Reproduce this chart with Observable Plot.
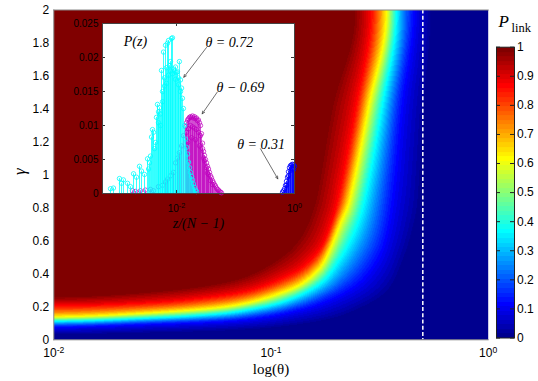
<!DOCTYPE html>
<html>
<head>
<meta charset="utf-8">
<script src="https://cdn.jsdelivr.net/npm/d3@7"></script>
<script src="https://cdn.jsdelivr.net/npm/@observablehq/plot@0.6"></script>
<style>
  html, body { margin: 0; padding: 0; background: #fff; }
  #chart { position: relative; width: 538px; height: 381px; overflow: hidden; background: #fff; }
  #chart svg { position: absolute; overflow: visible; }
</style>
</head>
<body>
<div id="chart"></div>
<script>
// ================= DATA =================
// Main map axes
const xTickTheta = [0.01, 0.1, 1];
const yTickGamma = [0, 0.2, 0.4, 0.6, 0.8, 1, 1.2, 1.4, 1.6, 1.8, 2];
const cbarTicks = [0, 0.1, 0.2, 0.3, 0.4, 0.5, 0.6, 0.7, 0.8, 0.9, 1];
const dashedTheta = 0.5;

// P_link contour lines of the map (theta, gamma), one list per level
const levelP = [0.016, 0.12, 0.37, 0.62, 0.87, 0.984];
const contourTheta = [
  [0.0100, 0.0288, 0.0831, 0.1685, 0.2397, 0.3412, 0.4074, 0.4529, 0.4725, 0.5035, 0.5423],
  [0.0100, 0.0288, 0.0583, 0.0831, 0.1182, 0.1685, 0.2397, 0.2862, 0.3296, 0.3626, 0.4018, 0.4545],
  [0.0100, 0.0288, 0.0583, 0.0831, 0.1182, 0.1685, 0.2008, 0.2397, 0.2694, 0.3251, 0.3783],
  [0.0100, 0.0288, 0.0583, 0.0831, 0.1182, 0.1412, 0.1685, 0.1873, 0.2083, 0.2298, 0.2820, 0.3391],
  [0.0100, 0.0288, 0.0583, 0.0831, 0.1182, 0.1412, 0.1685, 0.1873, 0.2013, 0.2449, 0.2871],
  [0.0100, 0.0288, 0.0583, 0.0831, 0.1182, 0.1412, 0.1569, 0.1655, 0.1940, 0.2449]
];
const contourGamma = [
  [0.036, 0.046, 0.067, 0.117, 0.178, 0.299, 0.501, 0.703, 0.845, 1.421, 2.0],
  [0.076, 0.093, 0.109, 0.127, 0.161, 0.218, 0.319, 0.420, 0.572, 0.845, 1.421, 2.0],
  [0.113, 0.133, 0.158, 0.188, 0.238, 0.340, 0.461, 0.643, 0.845, 1.421, 2.0],
  [0.141, 0.166, 0.198, 0.234, 0.299, 0.349, 0.440, 0.552, 0.703, 0.845, 1.421, 2.0],
  [0.208, 0.228, 0.269, 0.309, 0.390, 0.451, 0.562, 0.703, 0.845, 1.421, 2.0],
  [0.258, 0.289, 0.340, 0.400, 0.522, 0.643, 0.784, 0.905, 1.421, 2.0]
];

// Inset: P(z) versus z/(N-1)
const insetXTicks = [0.01, 1];
const insetYTicks = [0, 0.005, 0.01, 0.015, 0.02, 0.025];

// theta = 0.69 (magenta)
const magentaZ = [0.00179, 0.00202, 0.00245, 0.00297, 0.00362, 0.00408, 0.00495, 0.00579, 0.00651, 0.00704, 0.00791, 0.00890, 0.00962, 0.0104, 0.0112, 0.0122, 0.0131,
  0.0142, 0.0148, 0.0154, 0.0160, 0.0166, 0.0173, 0.0180, 0.0187, 0.0194, 0.0202, 0.0210, 0.0218, 0.0227, 0.0236, 0.0245, 0.0255,
  0.0265, 0.0276, 0.0287, 0.0298, 0.0310, 0.0323, 0.0335, 0.0349, 0.0363, 0.0377, 0.0392, 0.0408, 0.0424, 0.0441, 0.0458, 0.0477,
  0.0495, 0.0515, 0.0536, 0.0557, 0.0579,
  0.0148, 0.0160, 0.0173, 0.0187, 0.0202, 0.0218, 0.0236, 0.0255, 0.0276, 0.0298, 0.0323, 0.0349, 0.0377, 0.0408,
  0.0154, 0.0180, 0.0210, 0.0245, 0.0287, 0.0335];
const magentaP = [0.0004, 0.0003, 0.0004, 0.0005, 0.0006, 0.0004, 0.0010, 0.0012, 0.0017, 0.0021, 0.0026, 0.0031, 0.0045, 0.0052, 0.0060, 0.0070, 0.0085,
  0.0098, 0.0104, 0.0108, 0.0110, 0.0112, 0.0113, 0.0112, 0.0114, 0.0111, 0.0113, 0.0110, 0.0111, 0.0107, 0.0108, 0.0104, 0.0100,
  0.0088, 0.0074, 0.0062, 0.0056, 0.0050, 0.0045, 0.0040, 0.0036, 0.0031, 0.0026, 0.0023, 0.0019, 0.0016, 0.0013, 0.0011, 0.0008,
  0.0006, 0.0005, 0.0003, 0.0002, 0.0001,
  0.0090, 0.0095, 0.0100, 0.0098, 0.0096, 0.0094, 0.0090, 0.0085, 0.0066, 0.0048, 0.0038, 0.0028, 0.0019, 0.0013,
  0.0075, 0.0082, 0.0079, 0.0070, 0.0052, 0.0030];

// theta = 0.72 (cyan)
const cyanZ = [0.000761, 0.000855, 0.00108, 0.00117, 0.00126, 0.00148, 0.00166, 0.00187, 0.00210, 0.00236, 0.00255, 0.00287,
  0.00323, 0.00336, 0.00349, 0.00362, 0.00377, 0.00392, 0.00408, 0.00424, 0.00441, 0.00458, 0.00476, 0.00495, 0.00515, 0.00536,
  0.00557, 0.00579, 0.00602, 0.00626, 0.00651, 0.00677, 0.00704, 0.00732, 0.00761, 0.00791, 0.00823, 0.00855, 0.00890,
  0.00925, 0.00962, 0.0100, 0.0104, 0.0108, 0.0112, 0.0117, 0.0122, 0.0126, 0.0131, 0.0137,
  0.0142, 0.0148, 0.0154, 0.0160, 0.0166, 0.0173, 0.0180, 0.0187, 0.0194, 0.0202, 0.0210, 0.0218,
  0.00495, 0.00536, 0.00579, 0.00626, 0.00677, 0.00732, 0.00791, 0.00855, 0.00962, 0.0108, 0.0117];
const cyanP = [0.0007, 0.0008, 0.0022, 0.0015, 0.0020, 0.0015, 0.0010, 0.0029, 0.0024, 0.0040, 0.0033, 0.0028,
  0.0051, 0.0036, 0.0045, 0.0055, 0.0083, 0.0094, 0.0090, 0.0066, 0.0075, 0.0112, 0.0131, 0.0120, 0.0126, 0.0117,
  0.0181, 0.0135, 0.0208, 0.0170, 0.0218, 0.0185, 0.0221, 0.0225, 0.0188, 0.0194, 0.0228, 0.0229, 0.0183,
  0.0180, 0.0186, 0.0178, 0.0179, 0.0170, 0.0194, 0.0167, 0.0155, 0.0140, 0.0125, 0.0100,
  0.0080, 0.0068, 0.0058, 0.0046, 0.0038, 0.0031, 0.0025, 0.0020, 0.0014, 0.0009, 0.0005, 0.0003,
  0.0104, 0.0100, 0.0150, 0.0158, 0.0162, 0.0174, 0.0180, 0.0176, 0.0168, 0.0160, 0.0150];

// theta = 0.31 (blue)
const blueZ = [0.626, 0.652, 0.678, 0.704, 0.732, 0.761, 0.791, 0.823, 0.855, 0.890, 0.925, 0.962, 1.0,
  0.732, 0.791, 0.855, 0.925, 0.962];
const blueP = [0.0002, 0.0004, 0.0007, 0.0012, 0.0018, 0.0024, 0.0032, 0.0038, 0.0041, 0.0042, 0.0043, 0.0042, 0.0040,
  0.0012, 0.0026, 0.0034, 0.0036, 0.0035];

// Inset annotations
const insetLabels = [
  {text: "P(z)", z: 0.00128, p: 0.02235},
  {text: "θ = 0.72", z: 0.0310, p: 0.02221},
  {text: "θ − 0.69", z: 0.0477, p: 0.01559},
  {text: "θ = 0.31", z: 0.1069, p: 0.00721}
];
const insetArrows = [
  {z1: 0.03225, p1: 0.02147, z2: 0.0133, p2: 0.0171},
  {z1: 0.0490, p1: 0.0149, z2: 0.02726, p2: 0.01172},
  {z1: 0.2653, p1: 0.00657, z2: 0.521, p2: 0.00216}
];

// ================= LAYOUT / STYLE =================
const W = 538, H = 381;
const ML = 53.3, MR = W - 487.7, MT = 9.5, MB = H - 339.3;
const FW = W - ML - MR, FH = H - MT - MB;
const SX = FW / 2, SY = FH / 2;           // pixels per decade, pixels per unit gamma
const serif = "'Liberation Serif', 'DejaVu Serif', serif";
const sans = "'Liberation Sans', Arial, Helvetica, sans-serif";

// MATLAB jet(64) colormap
function jet64() {
  const n = 16, u = [];
  for (let i = 1; i <= n; i++) u.push(i / n);
  for (let i = 0; i < n - 1; i++) u.push(1);
  for (let i = n; i >= 1; i--) u.push(i / n);
  const J = Array.from({length: 64}, () => [0, 0, 0]);
  u.forEach((v, k) => {
    if (8 + k < 64) J[8 + k][1] = v;
    if (24 + k < 64) J[24 + k][0] = v;
    if (k - 8 >= 0 && k - 8 < 64) J[k - 8][2] = v;
  });
  return J.map(([r, g, b]) => `rgb(${Math.round(r * 255)},${Math.round(g * 255)},${Math.round(b * 255)})`);
}
const colorOpts = {type: "threshold", domain: d3.range(1, 64).map(i => i / 64), range: jet64()};

// ---- continuous field built from the contour lines ----
function makeCurve(thetas, gammas) {
  const pts = thetas.map((th, j) => {
    const lx = Math.log10(th), Y = gammas[j] * SY;
    return [Y + lx * SX, Y - lx * SX];
  }).sort((a, b) => a[0] - b[0]);
  const n = pts.length, S = pts.map(p => p[0]), T = pts.map(p => p[1]);
  const M = S.map((_, j) => j === 0 ? -1 : j === n - 1 ? 1 : (T[j + 1] - T[j - 1]) / (S[j + 1] - S[j - 1]));
  return s => {
    if (s <= S[0]) return T[0] + S[0] - s;
    if (s >= S[n - 1]) return T[n - 1] + s - S[n - 1];
    let j = 0; while (S[j + 1] < s) j++;
    const h = S[j + 1] - S[j], u = (s - S[j]) / h, u2 = u * u, u3 = u2 * u;
    return (2 * u3 - 3 * u2 + 1) * T[j] + (u3 - 2 * u2 + u) * h * M[j] +
           (-2 * u3 + 3 * u2) * T[j + 1] + (u3 - u2) * h * M[j + 1];
  };
}
const curves = contourTheta.map((th, i) => makeCurve(th, contourGamma[i]));

function field(lx, g) {
  const Y = g * SY, s = Y + lx * SX, t = Y - lx * SX;
  const n = curves.length, ts = curves.map(c => c(s));
  for (let i = 1; i < n; i++) if (ts[i] < ts[i - 1] + 0.05) ts[i] = ts[i - 1] + 0.05;
  if (t <= ts[0]) return 0;
  if (t >= ts[n - 1]) return 1;
  const d = [];
  for (let i = 0; i < n - 1; i++) d.push((levelP[i + 1] - levelP[i]) / (ts[i + 1] - ts[i]));
  const m = ts.map((_, i) => i === 0 ? d[0] : i === n - 1 ? d[n - 2] : 2 / (1 / d[i - 1] + 1 / d[i]));
  let j = 0; while (ts[j + 1] < t) j++;
  const h = ts[j + 1] - ts[j], u = (t - ts[j]) / h, u2 = u * u, u3 = u2 * u;
  return (2 * u3 - 3 * u2 + 1) * levelP[j] + (u3 - 2 * u2 + u) * h * m[j] +
         (-2 * u3 + 3 * u2) * levelP[j + 1] + (u3 - u2) * h * m[j + 1];
}

function supify(svg) {
  d3.select(svg).selectAll("text").each(function () {
    const el = d3.select(this);
    const s = el.text();
    if (!s.includes("^")) return;
    const [base, exp] = s.split("^");
    el.text(null);
    el.append("tspan").text(base);
    el.append("tspan").attr("dy", "-0.5em").attr("font-size", "0.72em").text(exp);
  });
}
const place = (svg, left, top) => { svg.style.left = left + "px"; svg.style.top = top + "px"; return svg; };

const chart = document.getElementById("chart");

// ================= MAIN MAP =================
const main = Plot.plot({
  width: W, height: H,
  marginLeft: ML, marginRight: MR, marginTop: MT, marginBottom: MB,
  x: {domain: [-2, 0]},
  y: {domain: [0, 2]},
  color: colorOpts,
  style: {background: "transparent", fontFamily: sans, fontSize: "12px", color: "black"},
  marks: [
    Plot.raster({x1: -2, x2: 0, y1: 0, y2: 2, fill: field, pixelSize: 1}),
    Plot.ruleX([Math.log10(dashedTheta)], {stroke: "white", strokeWidth: 1.5, strokeDasharray: "4 2.2"}),
    Plot.frame({anchor: "top", stroke: "#888"}),
    Plot.frame({anchor: "left", stroke: "#888"}),
    Plot.frame({anchor: "bottom", stroke: "#888"}),
    Plot.axisX(xTickTheta.map(Math.log10), {tickSize: 0, tickPadding: 8.5, label: null,
      tickFormat: d => "10^" + Math.round(d), fontSize: 12}),
    Plot.axisY(yTickGamma, {tickSize: 0, tickPadding: 4.5, label: null, tickFormat: d => String(d), fontSize: 12}),
    Plot.text(["log(θ)"], {text: d => d, frameAnchor: "bottom", lineAnchor: "middle", dy: 29,
      fontFamily: serif, fontSize: 15}),
    Plot.text(["γ"], {text: d => d, frameAnchor: "left", lineAnchor: "middle", dx: -34, rotate: -90,
      fontFamily: serif, fontStyle: "italic", fontSize: 17})
  ]
});
supify(main);
chart.appendChild(place(main, 0, 0));

// ================= INSET =================
const IL = 40, IT = 10, IW = 192, IH = 170;
const inset = Plot.plot({
  width: IL + IW + 10, height: IT + IH + 45,
  marginLeft: IL, marginRight: 10, marginTop: IT, marginBottom: 45,
  x: {type: "log", domain: [0.000557, 1]},
  y: {domain: [0, 0.025]},
  style: {background: "transparent", fontFamily: sans, fontSize: "10px", color: "black"},
  marks: [
    Plot.frame({fill: "white", stroke: "none"}),
    Plot.ruleX(magentaZ, {x: d => d, y1: 0, y2: (d, i) => magentaP[i], stroke: "#bf00bf", strokeWidth: 0.7}),
    Plot.dot(magentaZ, {x: d => d, y: (d, i) => magentaP[i], r: 2.2, stroke: "#bf00bf", strokeWidth: 0.7, fill: "none"}),
    Plot.ruleX(cyanZ, {x: d => d, y1: 0, y2: (d, i) => cyanP[i], stroke: "#00ffff", strokeWidth: 0.8}),
    Plot.dot(cyanZ, {x: d => d, y: (d, i) => cyanP[i], r: 2.2, stroke: "#00ffff", strokeWidth: 0.8, fill: "none"}),
    Plot.ruleX(blueZ, {x: d => d, y1: 0, y2: (d, i) => blueP[i], stroke: "#0000ff", strokeWidth: 0.8}),
    Plot.dot(blueZ, {x: d => d, y: (d, i) => blueP[i], r: 2.2, stroke: "#0000ff", strokeWidth: 0.8, fill: "none"}),
    Plot.tickX(insetXTicks, {x: d => d, insetTop: IH - 3, stroke: "#333"}),
    Plot.tickX(insetXTicks, {x: d => d, insetBottom: IH - 3, stroke: "#333"}),
    Plot.tickY(insetYTicks, {y: d => d, insetRight: IW - 3, stroke: "#333"}),
    Plot.tickY(insetYTicks, {y: d => d, insetLeft: IW - 3, stroke: "#333"}),
    Plot.frame({stroke: "#444"}),
    Plot.axisX(insetXTicks, {tickSize: 0, tickPadding: 11, label: null,
      tickFormat: d => "10^" + Math.round(Math.log10(d)), fontSize: 10}),
    Plot.axisY(insetYTicks, {tickSize: 0, tickPadding: 4, label: null, tickFormat: d => String(d), fontSize: 10}),
    Plot.arrow(insetArrows, {x1: "z1", y1: "p1", x2: "z2", y2: "p2", stroke: "#333", strokeWidth: 0.7,
      headLength: 6, headAngle: 50}),
    Plot.text(insetLabels, {x: "z", y: "p", text: "text", textAnchor: "start", lineAnchor: "middle",
      fontFamily: serif, fontStyle: "italic", fontSize: 14}),
    Plot.text(["z/(N − 1)"], {text: d => d, frameAnchor: "bottom", lineAnchor: "middle", dy: 30,
      fontFamily: serif, fontStyle: "italic", fontSize: 14})
  ]
});
supify(inset);
chart.appendChild(place(inset, 102 - IL, 23 - IT));

// ================= COLORBAR =================
const cbar = Plot.plot({
  width: 58, height: H,
  marginLeft: 16, marginRight: 24, marginTop: 46.7, marginBottom: 43.5,
  x: {domain: [0, 1], axis: null},
  y: {domain: [0, 1]},
  color: colorOpts,
  style: {background: "transparent", fontFamily: sans, fontSize: "12px", color: "black"},
  marks: [
    Plot.raster({x1: 0, x2: 1, y1: 0, y2: 1, fill: (x, y) => y, pixelSize: 1}),
    Plot.tickY(cbarTicks, {y: d => d, insetRight: 14, stroke: "#222"}),
    Plot.tickY(cbarTicks, {y: d => d, insetLeft: 14, stroke: "#222"}),
    Plot.frame({stroke: "#222"}),
    Plot.axisY(cbarTicks, {anchor: "right", tickSize: 0, tickPadding: 2.5, label: null,
      tickFormat: d => String(d), fontSize: 12}),
    Plot.text(["P"], {text: d => d, frameAnchor: "top-left", lineAnchor: "middle", dx: 2, dy: -26,
      textAnchor: "start", fontFamily: serif, fontStyle: "italic", fontSize: 17}),
    Plot.text(["link"], {text: d => d, frameAnchor: "top-left", lineAnchor: "middle", dx: 15, dy: -19,
      textAnchor: "start", fontFamily: serif, fontSize: 12.5})
  ]
});
chart.appendChild(place(cbar, 480, 0));
</script>
</body>
</html>
